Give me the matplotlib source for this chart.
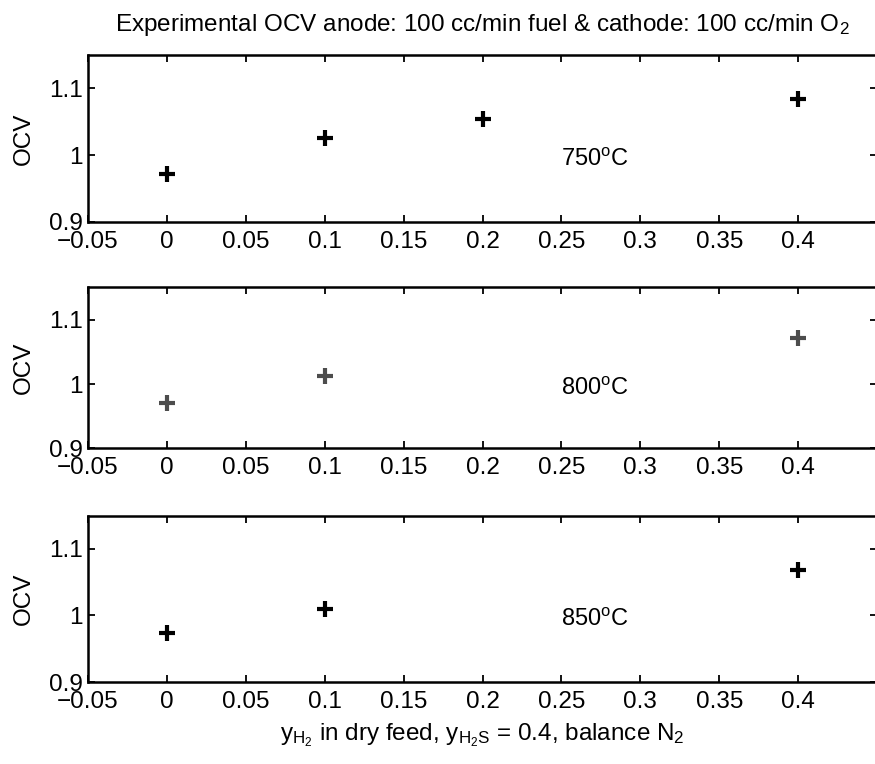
import matplotlib
matplotlib.use("Agg")
import matplotlib.pyplot as plt
import numpy as np

plt.rcParams['font.family'] = ['Liberation Sans', 'DejaVu Sans']
plt.rcParams['mathtext.fontset'] = 'custom'
plt.rcParams['mathtext.rm'] = 'Liberation Sans'
plt.rcParams['mathtext.it'] = 'Liberation Sans:italic'
plt.rcParams['mathtext.bf'] = 'Liberation Sans:bold'

# H2 mole fraction in the dry feed for each temperature
y_h2_750 = [0.0, 0.1, 0.2, 0.4]
ocv_750 = [0.972, 1.026, 1.054, 1.084]

y_h2_800 = [0.0, 0.1, 0.4]
ocv_800 = [0.970, 1.012, 1.071]

y_h2_850 = [0.0, 0.1, 0.4]
ocv_850 = [0.974, 1.010, 1.068]

temperatures = ["750", "800", "850"]
x_ticks = [-0.05, 0, 0.05, 0.1, 0.15, 0.2, 0.25, 0.3, 0.35, 0.4]
y_ticks = [0.9, 1.0, 1.1]

FS = 17.5

fig = plt.figure(figsize=(8.75, 7.64), dpi=100)

positions = [
    [0.1006, 0.7098, 0.9017, 0.2182],
    [0.1006, 0.4130, 0.9017, 0.2107],
    [0.1006, 0.1073, 0.9017, 0.2177],
]
series = [(y_h2_750, ocv_750, 'black'),
          (y_h2_800, ocv_800, '0.3'),
          (y_h2_850, ocv_850, 'black')]

axes = []
for pos, (xs, ys, col), temp in zip(positions, series, temperatures):
    ax = fig.add_axes(pos)
    ax.plot(xs, ys, linestyle='none', marker='+', markersize=11,
            markeredgewidth=3.0, color=col)
    ax.set_xlim(-0.05, 0.45)
    ax.set_ylim(0.9, 1.15)
    ax.set_xticks(x_ticks)
    ax.set_xticklabels(['%g' % t if t >= 0 else '\u2212%g' % abs(t) for t in x_ticks])
    ax.set_yticks(y_ticks)
    ax.set_yticklabels(['%g' % t for t in y_ticks])
    ax.tick_params(direction='in', length=5, width=1.3, top=True, right=True,
                   labelsize=FS)
    ax.tick_params(axis='x', pad=6.5)
    ax.tick_params(axis='y', pad=4)
    for s in ax.spines.values():
        s.set_linewidth(1.8)
    ax.set_ylabel('OCV', fontsize=FS, labelpad=10)
    ax.text(0.25, 0.993, temp + r'$^{\rm o}$C', fontsize=17,
            ha='left', va='center')
    axes.append(ax)

axes[0].set_title(r'Experimental OCV anode: 100 cc/min fuel & cathode: 100 cc/min O$_2$',
                  fontsize=FS, pad=17)
axes[2].set_xlabel(r'y$_{\rm H_2}$ in dry feed, y$_{\rm H_2S}$ = 0.4, balance N$_2$',
                   fontsize=FS, labelpad=6)

fig.savefig('out.png', dpi=100)
